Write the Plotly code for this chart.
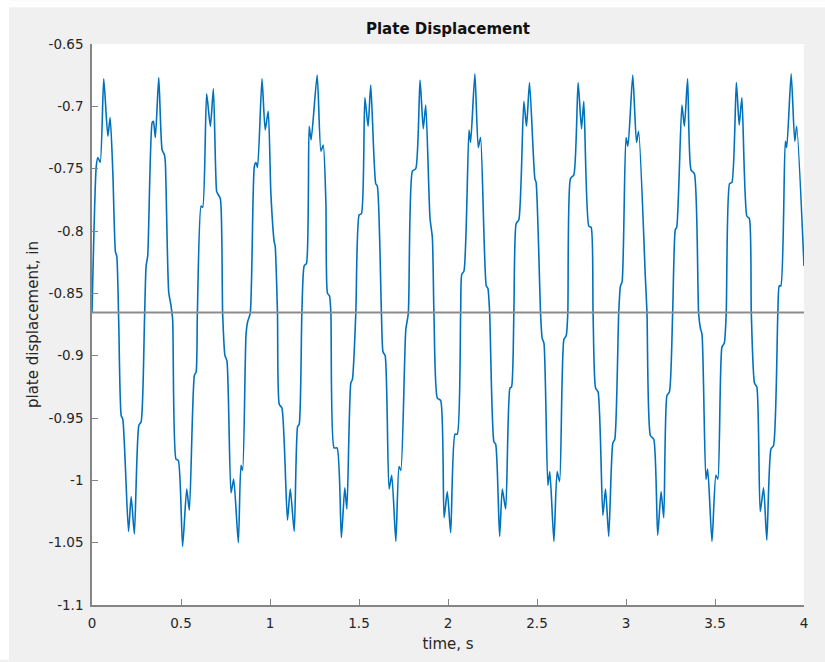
import plotly.graph_objects as go

# Plate displacement record (s, in), sampled at the turning points of each cycle
time_s = [
    0.000, 0.024, 0.033, 0.046, 0.066, 0.089, 0.102, 0.117, 0.132, 0.139,
    0.150, 0.164, 0.173, 0.205, 0.220, 0.238, 0.263, 0.276, 0.295,
    0.304, 0.313, 0.338, 0.345, 0.356, 0.375, 0.394, 0.407, 0.412, 0.431,
    0.444, 0.453, 0.472, 0.485, 0.509, 0.532, 0.547, 0.575, 0.585, 0.592,
    0.613, 0.622, 0.644, 0.665, 0.682, 0.700, 0.706, 0.721, 0.734, 0.747,
    0.758, 0.781, 0.796, 0.822, 0.837, 0.846, 0.865, 0.874, 0.889,
    0.912, 0.921, 0.930, 0.955, 0.973, 0.990, 1.005, 1.024, 1.029, 1.042,
    1.052, 1.067, 1.098, 1.114, 1.136, 1.155, 1.164, 1.179,
    1.192, 1.205, 1.220, 1.231, 1.265, 1.286, 1.299, 1.314, 1.323, 1.334,
    1.342, 1.360, 1.377, 1.401, 1.420, 1.432, 1.454, 1.463, 1.482,
    1.501, 1.514, 1.533, 1.551, 1.566, 1.594, 1.603, 1.626, 1.635, 1.647,
    1.669, 1.684, 1.707, 1.725, 1.735, 1.763, 1.777,
    1.800, 1.819, 1.843, 1.861, 1.875, 1.899, 1.912, 1.921, 1.940, 1.959,
    1.978, 1.996, 2.015, 2.039, 2.052, 2.071,
    2.077, 2.090, 2.118, 2.127, 2.151, 2.170, 2.183, 2.215, 2.224, 2.234,
    2.258, 2.268, 2.290, 2.305, 2.324, 2.348, 2.357, 2.370,
    2.383, 2.398, 2.426, 2.441, 2.458, 2.488, 2.495, 2.520, 2.529, 2.539,
    2.561, 2.572, 2.595, 2.613, 2.627, 2.651, 2.664, 2.673,
    2.688, 2.707, 2.731, 2.750, 2.763, 2.791, 2.804, 2.815, 2.829, 2.843,
    2.870, 2.885, 2.903, 2.926, 2.937, 2.959,
    2.969, 2.978, 3.000, 3.011, 3.038, 3.059, 3.071, 3.109, 3.118, 3.137,
    3.156, 3.178, 3.197, 3.212, 3.230, 3.244, 3.262,
    3.277, 3.285, 3.314, 3.328, 3.346, 3.365, 3.384, 3.408, 3.418, 3.427,
    3.449, 3.459, 3.483, 3.505, 3.516, 3.539, 3.552, 3.563,
    3.582, 3.595, 3.620, 3.636, 3.651, 3.679, 3.693, 3.704, 3.722, 3.735,
    3.754, 3.773, 3.791, 3.814, 3.829, 3.853,
    3.861, 3.870, 3.895, 3.903, 3.928, 3.948, 3.959, 4.000,
]

displacement_in = [
    -0.866, -0.748, -0.741, -0.745, -0.678, -0.724, -0.709, -0.753, -0.817, -0.820,
    -0.872, -0.948, -0.951, -1.041, -1.013, -1.043, -0.956, -0.953, -0.871,
    -0.828, -0.820, -0.713, -0.712, -0.725, -0.677, -0.735, -0.739, -0.745, -0.849,
    -0.860, -0.871, -0.983, -0.984, -1.053, -1.007, -1.024, -0.916, -0.913, -0.866,
    -0.780, -0.781, -0.690, -0.716, -0.686, -0.768, -0.770, -0.774, -0.866, -0.900,
    -0.904, -1.010, -0.999, -1.050, -0.988, -0.992, -0.884, -0.873, -0.866,
    -0.748, -0.745, -0.749, -0.678, -0.719, -0.704, -0.770, -0.809, -0.812, -0.866,
    -0.939, -0.942, -1.032, -1.007, -1.041, -0.957, -0.955, -0.866,
    -0.828, -0.826, -0.716, -0.727, -0.675, -0.736, -0.731, -0.777, -0.850, -0.852,
    -0.866, -0.974, -0.974, -1.046, -1.006, -1.023, -0.922, -0.919, -0.866,
    -0.787, -0.786, -0.693, -0.716, -0.683, -0.762, -0.764, -0.866, -0.897, -0.900,
    -1.007, -0.996, -1.049, -0.989, -0.992, -0.879, -0.866,
    -0.752, -0.750, -0.679, -0.718, -0.699, -0.790, -0.805, -0.866, -0.934, -0.936,
    -1.030, -1.009, -1.042, -0.963, -0.963, -0.866,
    -0.835, -0.832, -0.719, -0.729, -0.674, -0.733, -0.725, -0.844, -0.846, -0.866,
    -0.969, -0.971, -1.045, -1.007, -1.023, -0.926, -0.925, -0.866,
    -0.794, -0.791, -0.696, -0.716, -0.681, -0.758, -0.761, -0.866, -0.886, -0.890,
    -1.004, -0.993, -1.049, -0.993, -1.001, -0.887, -0.884, -0.866,
    -0.758, -0.755, -0.681, -0.718, -0.696, -0.796, -0.797, -0.866, -0.926, -0.929,
    -1.028, -1.007, -1.045, -0.970, -0.967, -0.866,
    -0.844, -0.841, -0.725, -0.732, -0.675, -0.729, -0.720, -0.838, -0.866, -0.964,
    -0.967, -1.044, -1.009, -1.030, -0.932, -0.929, -0.866,
    -0.799, -0.797, -0.699, -0.716, -0.678, -0.751, -0.754, -0.866, -0.878, -0.883,
    -0.999, -0.991, -1.049, -0.996, -0.999, -0.893, -0.890, -0.866,
    -0.762, -0.761, -0.681, -0.715, -0.693, -0.788, -0.790, -0.866, -0.922, -0.925,
    -1.025, -1.006, -1.048, -0.975, -0.972, -0.866,
    -0.844, -0.844, -0.728, -0.733, -0.674, -0.728, -0.716, -0.828,
]

# Mean displacement drawn as a reference level
mean_time_s = [0.0, 4.0]
mean_level_in = -0.8653

x_ticks = [0, 0.5, 1, 1.5, 2, 2.5, 3, 3.5, 4]
x_tick_text = ["0", "0.5", "1", "1.5", "2", "2.5", "3", "3.5", "4"]
y_ticks = [-1.1, -1.05, -1.0, -0.95, -0.9, -0.85, -0.8, -0.75, -0.7, -0.65]
y_tick_text = ["-1.1", "-1.05", "-1", "-0.95", "-0.9", "-0.85", "-0.8", "-0.75", "-0.7", "-0.65"]

W, H = 825, 662
L, R, T, B = 92, 21, 44, 55
pw, ph = W - L - R, H - T - B

FONT = "DejaVu Sans"
AXIS_GREY = "#858585"
TEXT_GREY = "#262626"

fig = go.Figure()
fig.add_trace(go.Scatter(
    x=time_s, y=displacement_in, mode="lines",
    line=dict(color="#0072BD", width=1.6, shape="spline", smoothing=0.6),
    hoverinfo="skip", showlegend=False,
))
fig.add_trace(go.Scatter(
    x=mean_time_s, y=[mean_level_in] * len(mean_time_s), mode="lines",
    line=dict(color="#8c8c8c", width=2),
    hoverinfo="skip", showlegend=False,
))

axis_common = dict(
    showline=True, linecolor=AXIS_GREY, linewidth=1.6,
    ticks="inside", ticklen=6, tickwidth=1.3, tickcolor=AXIS_GREY,
    showgrid=False, zeroline=False, mirror=False,
    tickfont=dict(family=FONT, size=13.5, color=TEXT_GREY),
)

fig.update_xaxes(
    range=[0, 4], tickvals=x_ticks, ticktext=x_tick_text,
    title=dict(text="time, s", font=dict(family=FONT, size=15, color=TEXT_GREY), standoff=8),
    ticklabelstandoff=5,
    **axis_common,
)
fig.update_yaxes(
    range=[-1.1, -0.65], tickvals=y_ticks, ticktext=y_tick_text,
    title=dict(text="plate displacement, in", font=dict(family=FONT, size=15, color=TEXT_GREY), standoff=6),
    ticklabelstandoff=4,
    **axis_common,
)

# White edge along the top and left of the grey figure window
px_x = lambda px: (px - L) / pw
px_y = lambda py: (H - B - py) / ph
fig.add_shape(type="rect", xref="paper", yref="paper", layer="below",
              x0=px_x(0), x1=px_x(9), y0=px_y(H), y1=px_y(0),
              fillcolor="white", line=dict(width=0))
fig.add_shape(type="rect", xref="paper", yref="paper", layer="below",
              x0=px_x(0), x1=px_x(W), y0=px_y(7), y1=px_y(0),
              fillcolor="white", line=dict(width=0))

fig.update_layout(
    width=W, height=H,
    margin=dict(l=L, r=R, t=T, b=B, pad=0),
    paper_bgcolor="#f0f0f0", plot_bgcolor="white",
    title=dict(text="<b>Plate Displacement</b>", x=0.5, xref="paper", xanchor="center",
               y=1 - 29 / H, yref="container", yanchor="middle",
               font=dict(family=FONT, size=15, color="#111111")),
    showlegend=False,
)

fig.write_html("out.html")
